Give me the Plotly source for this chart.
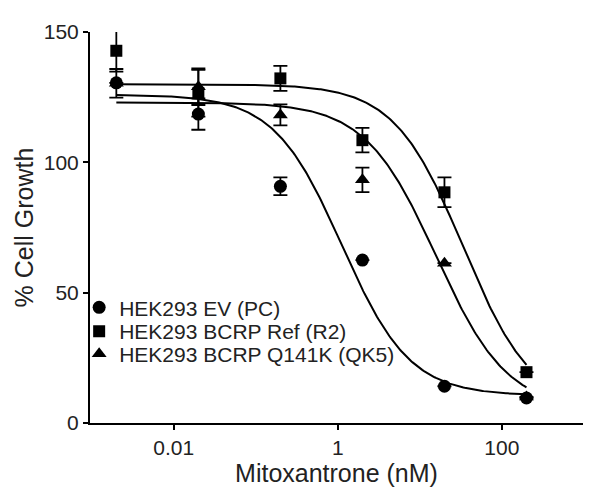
import numpy as np
import plotly.graph_objects as go

FONT = "Liberation Sans, Arial, sans-serif"

# mitoxantrone concentrations (nM)
conc = [0.002, 0.02, 0.2, 2, 20, 200]

# % cell growth, mean and error (None = bar hidden inside the symbol)
ev_pc = [130.5, 118.5, 90.8, 62.5, 14.1, 9.6]
ev_pc_err = [None, 6, 3.4, None, None, None]
r2 = [142.8, 126.5, 132.2, 108.5, 88.5, 19.5]
r2_err = [8, 9, 4.8, 4.7, 5.7, None]
qk5 = [130.3, 129, 118.2, 93.3, 61.3, 10]
qk5_err = [5.5, 7, 4, 4.7, None, None]

# fitted 4-parameter curves: top, bottom, logIC50, hill slope
fit_ev_pc = [126, 10.5, 0.05, 1.05]
fit_r2 = [130, 5, 1.53, 1.03]
fit_qk5 = [123, 5, 1.2, 1.0]

names = ["HEK293 EV (PC)", "HEK293 BCRP Ref (R2)", "HEK293 BCRP Q141K (QK5)"]
symbols = ["circle", "square", "triangle-up"]
legend_y = [0.295, 0.234, 0.176]


def curve(p):
    top, bottom, logic50, hill = p
    lx = np.linspace(np.log10(conc[0]), np.log10(conc[-1]), 300)
    return 10 ** lx, bottom + (top - bottom) / (1 + 10 ** ((lx - logic50) * hill))


fig = go.Figure()

series = [(ev_pc, ev_pc_err, fit_ev_pc), (r2, r2_err, fit_r2), (qk5, qk5_err, fit_qk5)]
for vals, errs, fit in series:
    cx, cy = curve(fit)
    fig.add_trace(go.Scatter(x=cx, y=cy, mode="lines", showlegend=False,
                             line=dict(color="black", width=2), hoverinfo="skip"))

for i, (vals, errs, fit) in enumerate(series):
    lg = "legend" if i == 0 else f"legend{i + 1}"
    fig.add_trace(go.Scatter(
        x=conc, y=vals, mode="markers", name=names[i], legend=lg,
        marker=dict(symbol=symbols[i], size=13 if i != 1 else 12, color="black"),
        error_y=dict(type="data", array=errs, visible=True, color="black", thickness=1.8, width=7),
    ))

leg = dict(x=-0.022, xanchor="left", yanchor="middle", bgcolor="rgba(0,0,0,0)",
           font=dict(family=FONT, size=21, color="#222"), itemwidth=30)

# the page body adds an 8px offset, so margins are shifted to compensate
fig.update_layout(
    width=600, height=496,
    paper_bgcolor="white", plot_bgcolor="white",
    margin=dict(l=82, r=25, t=20, b=81),
    font=dict(family=FONT, size=21, color="#222"),
    legend=dict(leg, y=legend_y[0]),
    legend2=dict(leg, y=legend_y[1]),
    legend3=dict(leg, y=legend_y[2]),
)

fig.update_xaxes(type="log", range=[-3.02, 2.99], tickvals=[0.01, 1, 100], ticktext=["0.01", "1", "100"],
                 ticks="outside", ticklen=5, tickwidth=2, tickcolor="black",
                 showline=True, linewidth=2, linecolor="black", showgrid=False, zeroline=False,
                 title=dict(text="Mitoxantrone (nM)", standoff=4))
fig.update_yaxes(range=[0, 150], tickvals=[0, 50, 100, 150],
                 ticks="outside", ticklen=5, tickwidth=2, tickcolor="black",
                 showline=True, linewidth=2, linecolor="black", showgrid=False, zeroline=False,
                 title=dict(text="% Cell Growth", standoff=3))

fig.write_html("out.html")
